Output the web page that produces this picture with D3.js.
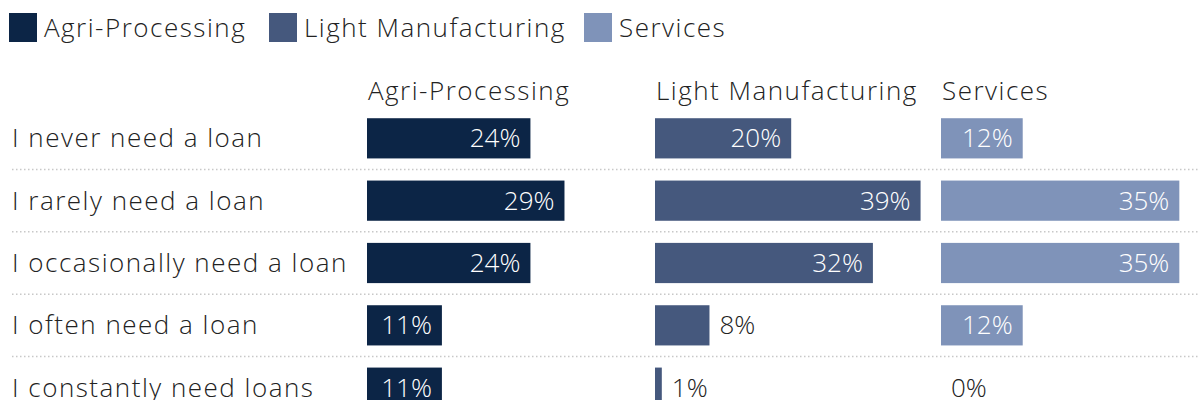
<!DOCTYPE html>
<html>
<head>
<meta charset="utf-8">
<script src="https://cdn.jsdelivr.net/npm/d3@7/dist/d3.min.js"></script>
<style>
  html, body { margin: 0; padding: 0; background: #fff; }
  svg { display: block; }
  text { font-family: "Open Sans", "Noto Sans", sans-serif; font-weight: 300; }
</style>
</head>
<body>
<div id="chart"></div>
<script>
// Survey answers: how often businesses need a loan, by sector (percent of respondents)
const categories = [
  "I never need a loan",
  "I rarely need a loan",
  "I occasionally need a loan",
  "I often need a loan",
  "I constantly need loans"
];
const sectors = ["Agri-Processing", "Light Manufacturing", "Services"];
const agriProcessing = [24, 29, 24, 11, 11];
const lightManufacturing = [20, 39, 32, 8, 1];
const services = [12, 35, 35, 12, 0];
const sectorColors = ["#0c2546", "#45587d", "#7f93b9"];

const seriesValues = [agriProcessing, lightManufacturing, services];

const W = 1199, H = 400;
const svg = d3.select("#chart").append("svg")
  .attr("width", W).attr("height", H);

const fontSize = 26;
const spacing = "1.5px";
const textColor = "#222222";

// Legend
const legendX = [9, 269, 584];
const legend = svg.append("g");
sectors.forEach((s, i) => {
  const g = legend.append("g").attr("transform", `translate(${legendX[i]},13)`);
  g.append("rect").attr("width", 28).attr("height", 29).attr("fill", sectorColors[i]);
  g.append("text").attr("x", 35).attr("y", 24)
    .attr("font-size", fontSize).attr("letter-spacing", spacing)
    .attr("fill", textColor).text(s);
});

// Layout: one panel per sector, rows shared across panels
const panelStart = d3.scaleOrdinal().domain(sectors).range([367, 655, 941]);
const x = d3.scaleLinear().domain([0, 42]).range([0, 286]);
const y = d3.scaleBand().domain(categories).range([107, 419]).paddingInner(0.355).paddingOuter(0.18);

// Dotted separators between rows
const bounds = categories.slice(1).map(c => y(c) - y.step() * y.paddingInner() / 2);
svg.append("g").selectAll("line").data(bounds).join("line")
  .attr("x1", 12).attr("x2", W)
  .attr("y1", d => d).attr("y2", d => d)
  .attr("stroke", "#c8c8c8").attr("stroke-width", 1.5)
  .attr("stroke-dasharray", "1.5,2.5");

// Row labels
svg.append("g").selectAll("text").data(categories).join("text")
  .attr("x", 12).attr("y", d => y(d) + y.bandwidth() / 2)
  .attr("dy", "0.35em")
  .attr("font-size", fontSize).attr("letter-spacing", spacing)
  .attr("fill", textColor)
  .text(d => d);

// Panels
sectors.forEach((s, i) => {
  const x0 = panelStart(s);
  const g = svg.append("g").attr("transform", `translate(${x0},0)`);
  g.append("text").attr("x", 1).attr("y", 100)
    .attr("font-size", fontSize).attr("letter-spacing", spacing)
    .attr("fill", textColor).text(s);

  const rows = categories.map((c, j) => ({ cat: c, v: seriesValues[i][j] }));
  g.selectAll("rect").data(rows).join("rect")
    .attr("x", 0).attr("y", d => y(d.cat))
    .attr("width", d => x(d.v)).attr("height", y.bandwidth())
    .attr("fill", sectorColors[i]);

  g.selectAll("text.val").data(rows).join("text")
    .attr("class", "val")
    .attr("y", d => y(d.cat) + y.bandwidth() / 2)
    .attr("dy", "0.35em")
    .attr("font-size", fontSize)
    .each(function(d) {
      const inside = x(d.v) > 65;
      d3.select(this)
        .attr("x", inside ? x(d.v) - 10 : x(d.v) + 10)
        .attr("text-anchor", inside ? "end" : "start")
        .attr("fill", inside ? "#ffffff" : textColor)
        .text(d.v + "%");
    });
});
</script>
</body>
</html>
